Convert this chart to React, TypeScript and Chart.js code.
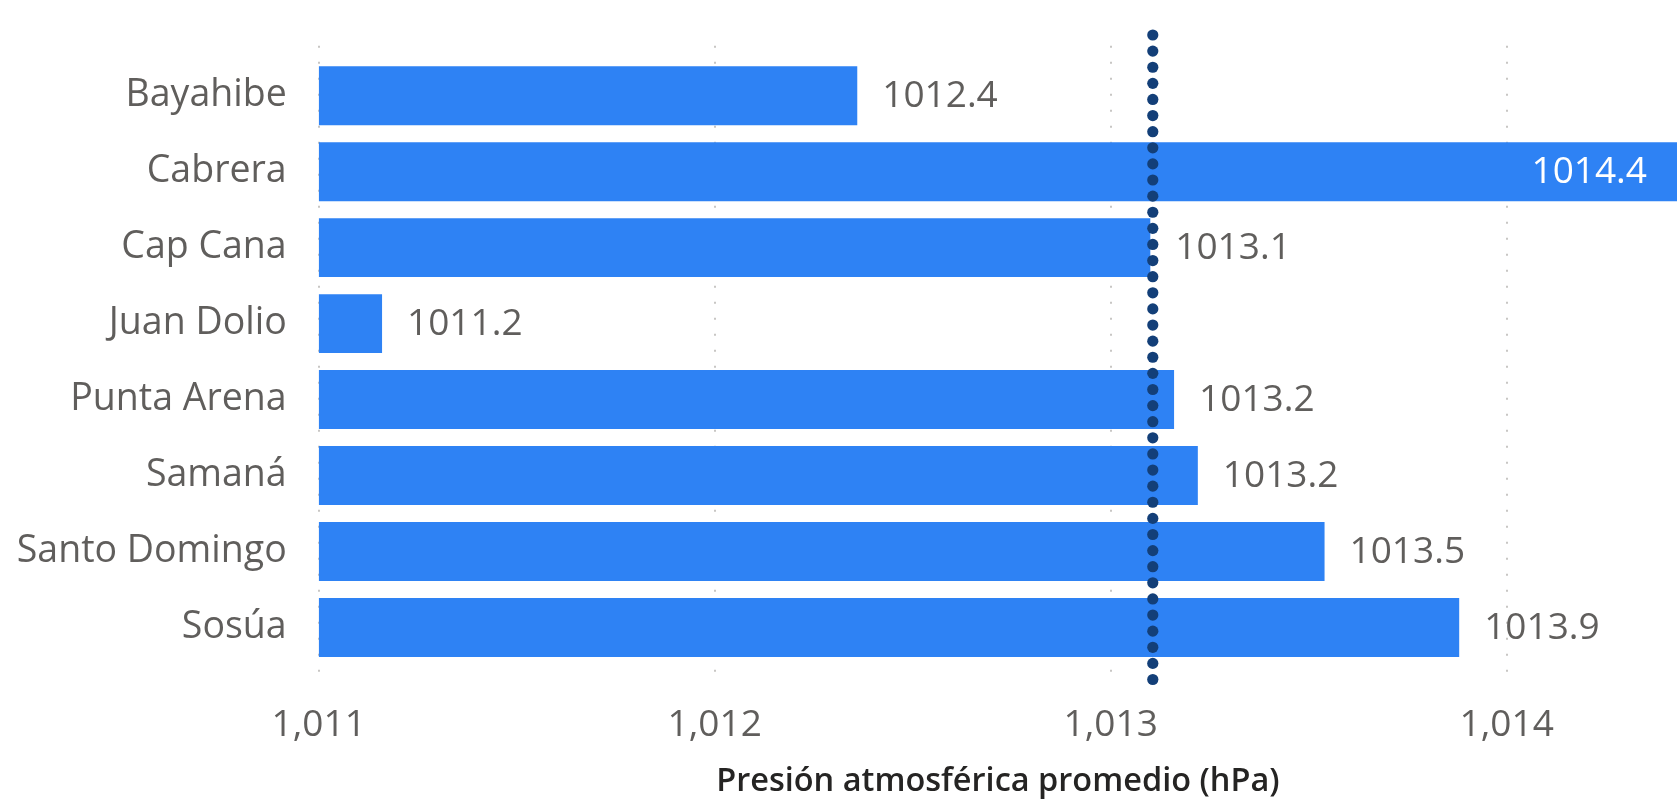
import React, { useEffect, useRef } from "react";
import { Chart, registerables } from "chart.js";

Chart.register(...registerables);

const categories = [
  "Bayahibe",
  "Cabrera",
  "Cap Cana",
  "Juan Dolio",
  "Punta Arena",
  "Samaná",
  "Santo Domingo",
  "Sosúa",
];
const pressureValues = [1012.36, 1014.43, 1013.1, 1011.16, 1013.16, 1013.22, 1013.54, 1013.88];
const xTickValues = [1011, 1012, 1013, 1014];
const axisMin = 1011;
const axisMax = 1014.43;
const axisTitle = "Presión atmosférica promedio (hPa)";

const W = 1677;
const H = 802;
const LABEL_FONT = '"Open Sans", "Noto Sans", sans-serif';
const TITLE_FONT = '"Open Sans", "Noto Sans", sans-serif';

const gridPlugin = {
  id: "dottedGrid",
  beforeDatasetsDraw(chart: any) {
    const { ctx, chartArea, scales } = chart;
    ctx.save();
    ctx.strokeStyle = "#c8c6c4";
    ctx.lineWidth = 2;
    ctx.setLineDash([2, 14]);
    xTickValues.forEach((v) => {
      const x = Math.round(scales.x.getPixelForValue(v));
      ctx.beginPath();
      ctx.moveTo(x, chartArea.top - 12);
      ctx.lineTo(x, chartArea.bottom + 9);
      ctx.stroke();
    });
    ctx.restore();
  },
};

const avgPlugin = {
  id: "avgLine",
  afterDatasetsDraw(chart: any) {
    const { ctx, chartArea, scales } = chart;
    const mean = pressureValues.reduce((a, b) => a + b, 0) / pressureValues.length;
    const x = scales.x.getPixelForValue(mean);
    const y0 = chartArea.top - 22.7;
    const y1 = chartArea.bottom + 14;
    const n = 40;
    const step = (y1 - y0) / n;
    ctx.save();
    ctx.fillStyle = "#133f78";
    for (let k = 0; k <= n; k++) {
      ctx.beginPath();
      ctx.arc(x, y0 + k * step, 5.6, 0, Math.PI * 2);
      ctx.fill();
    }
    ctx.restore();
  },
};

const labelPlugin = {
  id: "dataLabels",
  afterDraw(chart: any) {
    const { ctx, chartArea } = chart;
    const meta = chart.getDatasetMeta(0);
    ctx.save();
    ctx.font = `37px ${LABEL_FONT}`;
    ctx.textBaseline = "middle";
    meta.data.forEach((bar: any, i: number) => {
      const text = pressureValues[i].toFixed(1);
      const w = ctx.measureText(text).width;
      const outX = bar.x + 25;
      if (outX + w > chartArea.right - 4) {
        ctx.fillStyle = "#ffffff";
        ctx.textAlign = "right";
        ctx.fillText(text, bar.x - 30, bar.y + 1);
      } else {
        ctx.fillStyle = "#605e5c";
        ctx.textAlign = "left";
        ctx.fillText(text, outX, bar.y + 1);
      }
    });
    ctx.restore();
  },
};

export default function App() {
  const ref = useRef<HTMLCanvasElement>(null);
  useEffect(() => {
    document.body.style.margin = "0";
    const canvas = ref.current!;
    const chart = new Chart(canvas, {
      type: "bar",
      data: {
        labels: categories,
        datasets: [
          {
            data: pressureValues,
            backgroundColor: "#2e82f4",
            borderWidth: 0,
            categoryPercentage: 1,
            barPercentage: 0.776,
            base: axisMin,
          } as any,
        ],
      },
      options: {
        indexAxis: "y",
        responsive: false,
        maintainAspectRatio: false,
        animation: false,
        devicePixelRatio: 1,
        layout: { padding: { top: 57.7, left: 0, right: 0, bottom: 0 } },
        plugins: {
          legend: { display: false },
          tooltip: { enabled: false },
        },
        scales: {
          x: {
            type: "linear",
            min: axisMin,
            max: axisMax,
            grid: { display: false, drawTicks: false },
            border: { display: false },
            afterBuildTicks: (s: any) => {
              s.ticks = xTickValues.map((v) => ({ value: v }));
            },
            afterFit: (s: any) => {
              s.height = 136.5;
            },
            ticks: {
              padding: 38,
              color: "#605e5c",
              autoSkip: false,
              maxRotation: 0,
              font: { family: LABEL_FONT, size: 37 },
              callback: (v: any) => Number(v).toLocaleString("en-US"),
            },
            title: {
              display: true,
              text: axisTitle,
              color: "#252423",
              font: { family: TITLE_FONT, size: 32.5, weight: "600" },
              padding: { top: 0, bottom: 1 },
            },
          },
          y: {
            grid: { display: false, drawTicks: false },
            border: { display: false },
            afterFit: (s: any) => {
              s.width = 318.7;
            },
            ticks: {
              padding: 32,
              color: "#605e5c",
              font: { family: LABEL_FONT, size: 37.5 },
            },
          },
        },
      } as any,
      plugins: [gridPlugin, avgPlugin, labelPlugin],
    });
    return () => chart.destroy();
  }, []);
  return (
    <div style={{ width: W, height: H, position: "relative" }}>
      <canvas ref={ref} width={W} height={H} style={{ display: "block", width: W, height: H }} />
    </div>
  );
}
